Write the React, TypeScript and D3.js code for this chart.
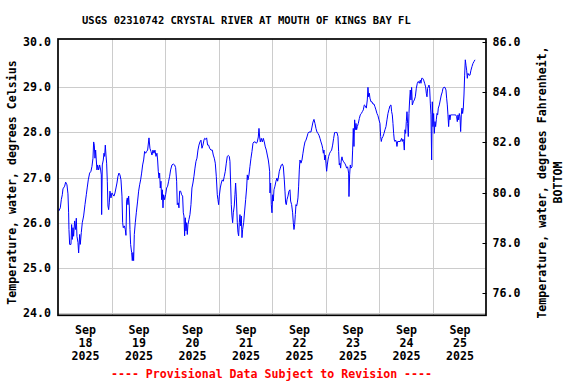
import React from "react";
import * as d3 from "d3";

const TITLE = "USGS 02310742 CRYSTAL RIVER AT MOUTH OF KINGS BAY FL";
const LEFT_LABEL = "Temperature, water, degrees Celsius";
const RIGHT_LABEL = ["Temperature, water, degrees Fahrenheit,", "BOTTOM"];
const FOOTER = "---- Provisional Data Subject to Revision ----";
const celsiusTicks = [24, 25, 26, 27, 28, 29, 30];
const celsiusGrid = [24, 25, 26, 27, 28, 29];
const fahrenheitTicks = [76, 78, 80, 82, 84, 86];
const dayNumbers = [18, 19, 20, 21, 22, 23, 24, 25];
const monthLabel = "Sep";
const yearLabel = "2025";

// [hour of day, water temperature °C]
const sep18: [number, number][] = [
  [0.0, 26.26], [0.67, 26.33], [1.12, 26.51], [1.57, 26.62], [1.87, 26.75], [2.62, 26.81], [3.07, 26.9],
  [3.66, 26.84], [4.11, 26.64], [4.41, 26.22], [4.56, 25.85], [4.86, 25.52], [5.46, 25.52], [5.76, 25.96],
  [6.06, 25.63], [6.36, 25.89], [6.65, 25.7], [7.1, 26.04], [7.55, 25.85], [7.85, 26.1], [8.15, 25.7],
  [8.6, 25.56], [8.9, 25.33], [9.35, 25.74], [9.64, 25.52], [10.09, 25.78], [10.54, 26.0], [11.14, 26.15],
  [11.74, 26.4], [12.34, 26.62], [12.79, 26.79], [13.23, 26.95], [13.83, 27.1], [14.43, 27.14], [14.88, 27.25],
  [15.33, 27.43], [15.63, 27.79], [15.93, 27.72], [16.22, 27.43], [16.52, 27.61], [16.82, 27.39], [17.12, 27.17],
  [17.42, 27.28], [17.87, 27.17], [18.32, 27.28], [18.77, 27.17], [19.07, 27.06], [19.22, 26.18], [19.51, 27.28],
  [19.96, 27.39], [20.26, 27.54], [20.56, 27.47], [20.86, 27.72], [21.16, 27.5], [21.46, 27.32], [21.76, 26.92],
  [22.06, 26.37], [22.36, 26.29], [22.65, 26.44], [22.95, 26.7], [23.4, 26.55], [23.85, 26.66],
];
const sep19: [number, number][] = [
  [0.3, 26.62], [0.75, 26.59], [1.2, 26.66], [1.65, 26.77], [2.09, 26.88], [2.54, 27.03], [2.99, 27.1],
  [3.44, 27.06], [3.89, 26.95], [4.34, 26.59], [4.64, 26.0], [4.93, 25.89], [5.38, 25.93], [5.83, 25.85],
  [6.13, 25.72], [6.43, 26.48], [6.73, 26.55], [7.03, 26.4], [7.33, 26.59], [7.63, 26.37], [7.93, 25.85],
  [8.22, 25.52], [8.67, 25.34], [8.97, 25.16], [9.27, 25.34], [9.57, 25.16], [9.87, 25.74], [10.32, 26.0],
  [10.77, 26.22], [11.36, 26.48], [11.81, 26.7], [12.26, 26.84], [12.71, 26.95], [13.16, 27.1], [13.61, 27.28],
  [14.06, 27.39], [14.5, 27.58], [14.95, 27.54], [15.4, 27.58], [15.85, 27.61], [16.45, 27.88], [16.89, 27.65],
  [17.34, 27.58], [17.79, 27.5], [18.24, 27.61], [18.69, 27.54], [19.14, 27.61], [19.59, 27.47], [20.03, 27.54],
  [20.33, 27.39], [20.63, 27.14], [20.93, 26.99], [21.23, 27.1], [21.53, 26.77], [21.83, 26.92], [22.13, 26.51],
  [22.43, 26.73], [22.73, 26.33], [23.02, 26.62], [23.47, 26.51], [23.92, 26.62],
];
const sep20: [number, number][] = [
  [0.37, 26.77], [0.82, 26.81], [1.27, 26.92], [1.72, 27.03], [2.16, 27.17], [2.76, 27.28], [3.36, 27.3],
  [3.96, 27.28], [4.41, 27.22], [4.86, 26.92], [5.15, 26.4], [5.6, 26.44], [5.9, 26.33], [6.2, 26.7],
  [6.65, 26.7], [7.1, 26.62], [7.55, 26.59], [7.85, 26.22], [8.15, 26.15], [8.44, 25.71], [8.74, 26.11],
  [9.04, 25.82], [9.34, 26.0], [9.64, 25.74], [9.94, 25.96], [10.39, 26.07], [10.84, 26.18], [11.29, 26.4],
  [11.73, 26.77], [12.18, 26.88], [12.63, 27.03], [13.08, 27.21], [13.53, 27.36], [13.98, 27.43], [14.43, 27.61],
  [14.87, 27.72], [15.32, 27.79], [15.77, 27.83], [16.22, 27.65], [16.67, 27.72], [17.12, 27.83], [17.42, 27.87],
  [17.86, 27.85], [18.31, 27.88], [18.76, 27.72], [19.21, 27.72], [19.66, 27.65], [20.26, 27.61], [20.86, 27.61],
  [21.3, 27.5], [21.75, 27.43], [22.2, 27.32], [22.65, 27.03], [23.1, 26.62], [23.4, 26.51], [23.7, 26.4],
];
const sep21: [number, number][] = [
  [0.0, 26.59], [0.44, 26.77], [0.89, 26.88], [1.34, 26.95], [1.79, 26.92], [2.24, 27.03], [2.69, 27.14],
  [3.14, 27.32], [3.58, 27.47], [4.03, 27.49], [4.48, 27.47], [4.78, 27.36], [5.08, 26.88], [5.38, 26.4],
  [5.68, 26.15], [5.98, 26.0], [6.28, 26.22], [6.72, 26.37], [7.02, 26.62], [7.32, 26.88], [7.63, 26.59],
  [8.08, 26.0], [8.38, 25.78], [8.68, 25.71], [8.97, 26.0], [9.27, 26.18], [9.57, 25.93], [9.87, 26.15],
  [10.17, 25.67], [10.47, 25.85], [10.92, 26.0], [11.37, 26.26], [11.82, 26.51], [12.26, 26.77], [12.56, 27.06],
  [12.86, 26.95], [13.31, 27.06], [13.76, 27.25], [14.21, 27.43], [14.66, 27.58], [15.11, 27.76], [15.55, 27.79],
  [16.15, 27.79], [16.6, 27.76], [17.05, 27.79], [17.5, 27.9], [17.8, 28.09], [18.1, 27.9], [18.39, 27.79],
  [18.84, 27.87], [19.29, 27.79], [19.74, 27.87], [20.19, 27.79], [20.64, 27.68], [21.09, 27.61], [21.53, 27.5],
  [21.98, 27.39], [22.28, 27.28], [22.58, 27.14], [22.73, 26.66], [23.03, 26.88], [23.33, 26.4], [23.63, 26.22],
  [23.93, 26.62],
];
const sep22: [number, number][] = [
  [0.23, 26.48], [0.53, 26.73], [0.97, 26.81], [1.42, 26.92], [1.87, 26.99], [2.17, 26.92], [2.47, 26.99],
  [2.92, 27.14], [3.37, 27.21], [3.82, 27.28], [4.26, 27.3], [4.71, 27.25], [5.16, 26.95], [5.46, 26.7],
  [5.76, 26.44], [6.06, 26.4], [6.36, 26.51], [6.81, 26.59], [7.25, 26.7], [7.7, 26.73], [8.0, 26.48],
  [8.45, 26.4], [8.9, 26.22], [9.2, 26.0], [9.5, 25.85], [9.8, 25.96], [10.1, 26.18], [10.4, 26.4],
  [10.69, 26.37], [10.99, 26.44], [11.29, 26.55], [11.59, 26.81], [11.89, 27.17], [12.19, 27.39], [12.64, 27.32],
  [13.09, 27.39], [13.53, 27.54], [13.98, 27.68], [14.43, 27.79], [14.88, 27.83], [15.33, 27.9], [15.78, 27.98],
  [16.23, 28.01], [16.67, 28.01], [17.12, 28.01], [17.57, 28.12], [18.02, 28.23], [18.47, 28.29], [18.92, 28.2],
  [19.37, 28.09], [19.81, 28.01], [20.26, 27.98], [20.71, 27.94], [21.16, 27.87], [21.61, 27.79], [22.06, 27.72],
  [22.36, 27.65], [22.66, 27.54], [22.96, 27.61], [23.26, 27.39], [23.55, 27.5], [23.85, 27.32],
];
const sep23: [number, number][] = [
  [0.15, 27.14], [0.45, 27.28], [0.75, 27.39], [1.05, 27.47], [1.5, 27.54], [1.95, 27.58], [2.39, 27.61],
  [2.84, 27.72], [3.29, 27.87], [3.74, 28.0], [4.19, 28.0], [4.79, 28.0], [5.24, 27.91], [5.53, 27.58],
  [5.83, 27.28], [6.13, 27.32], [6.43, 27.21], [6.73, 27.39], [7.03, 27.46], [7.33, 27.39], [7.78, 27.35],
  [8.23, 27.32], [8.67, 27.28], [9.12, 27.21], [9.57, 27.24], [10.02, 27.1], [10.17, 26.58], [10.47, 27.06],
  [10.77, 27.28], [11.07, 27.21], [11.52, 27.24], [11.81, 27.61], [12.11, 28.09], [12.41, 27.69], [12.71, 28.28],
  [13.01, 28.06], [13.31, 28.2], [13.61, 28.06], [13.91, 28.13], [14.36, 28.2], [14.81, 28.31], [15.25, 28.39],
  [15.7, 28.42], [16.15, 28.46], [16.6, 28.5], [17.05, 28.61], [17.5, 28.59], [17.95, 28.54], [18.39, 28.72],
  [18.69, 29.0], [18.99, 28.79], [19.29, 28.87], [19.59, 28.76], [20.04, 28.68], [20.49, 28.68], [20.94, 28.63],
  [21.38, 28.63], [21.83, 28.57], [22.28, 28.5], [22.73, 28.42], [23.18, 28.37], [23.63, 28.28],
];
const sep24: [number, number][] = [
  [0.08, 28.2], [0.38, 27.91], [0.67, 27.8], [0.97, 27.87], [1.42, 27.91], [1.87, 27.98], [2.32, 28.06],
  [2.77, 28.13], [3.22, 28.28], [3.66, 28.42], [4.11, 28.51], [4.56, 28.59], [5.01, 28.61], [5.31, 28.46],
  [5.61, 28.39], [5.91, 28.2], [6.21, 27.98], [6.51, 27.83], [6.8, 27.8], [7.1, 27.83], [7.4, 27.8],
  [7.7, 27.69], [8.0, 27.8], [8.6, 27.8], [9.2, 27.8], [9.79, 27.87], [10.09, 27.8], [10.39, 27.85],
  [10.69, 27.8], [10.99, 27.61], [11.29, 28.06], [11.59, 27.98], [11.89, 28.24], [12.19, 28.46], [12.49, 28.2],
  [12.79, 27.91], [13.08, 28.42], [13.38, 28.72], [13.68, 28.94], [13.98, 28.72], [14.28, 29.0], [14.58, 28.61],
  [15.03, 28.68], [15.48, 28.72], [15.93, 28.79], [16.38, 28.98], [16.83, 29.09], [17.27, 29.13], [17.72, 29.09],
  [18.17, 29.16], [18.47, 29.09], [18.77, 29.2], [19.22, 29.2], [19.67, 29.16], [20.12, 29.09], [20.56, 29.01],
  [20.86, 28.87], [21.16, 28.79], [21.46, 28.98], [21.76, 29.01], [22.06, 29.05], [22.36, 28.98], [22.66, 28.65],
  [22.96, 28.39], [23.26, 27.39], [23.55, 28.68], [23.85, 28.13],
];
const sep25: [number, number][] = [
  [0.15, 28.42], [0.45, 27.98], [0.75, 28.24], [1.05, 28.13], [1.35, 28.28], [1.65, 28.42], [1.95, 28.39],
  [2.25, 28.54], [2.7, 28.61], [3.14, 28.72], [3.59, 28.83], [4.04, 28.9], [4.34, 28.98], [4.79, 29.0],
  [5.24, 29.0], [5.69, 28.94], [5.98, 28.76], [6.28, 28.61], [6.58, 28.39], [6.88, 28.13], [7.18, 28.39],
  [7.48, 28.28], [7.78, 28.39], [8.23, 28.39], [8.68, 28.39], [9.12, 28.39], [9.57, 28.39], [10.02, 28.39],
  [10.47, 28.35], [10.77, 28.24], [11.07, 28.39], [11.37, 28.28], [11.67, 28.42], [11.97, 28.35], [12.27, 28.02],
  [12.56, 28.39], [12.86, 28.54], [13.16, 28.42], [13.46, 28.54], [13.76, 28.83], [14.06, 29.27], [14.36, 29.61],
  [14.66, 29.49], [14.96, 29.38], [15.26, 29.2], [15.55, 29.31], [16.0, 29.27], [16.45, 29.27], [16.9, 29.38],
  [17.35, 29.46], [17.8, 29.53], [18.25, 29.57], [18.7, 29.61],
];
const dailySeries = [sep18, sep19, sep20, sep21, sep22, sep23, sep24, sep25];

const W = 576;
const H = 384;
const FRAME = { left: 58, right: 486, top: 39, bottom: 315.3 };
const FONT = "'DejaVu Sans Mono', monospace";

export default function App() {
  const day = (i: number, h = 0) => new Date(Date.UTC(2025, 8, dayNumbers[0] + i) + h * 3600e3);
  const points = dailySeries.flatMap((arr, i) => arr.map(([h, v]) => ({ t: day(i, h), v })));

  const x = d3.scaleUtc().domain([day(0), day(8)]).range([58.8, 486.8]);
  const y = d3.scaleLinear().domain([24, 30]).range([313, 42.2]);
  const yF = d3.scaleLinear().domain([24 * 1.8 + 32, 30 * 1.8 + 32]).range([313, 42.2]);

  const line = d3
    .line<{ t: Date; v: number }>()
    .x((d) => x(d.t))
    .y((d) => y(d.v));

  const gridDays = d3.range(1, 8).map((i) => day(i));
  const labelDays = d3.range(0, 8).map((i) => day(i, 12));
  const midY = 182.5;

  return (
    <svg
      width={W}
      height={H}
      style={{ position: "absolute", left: 0, top: 0, background: "#fff" }}
      fontFamily={FONT}
      fontWeight="bold"
    >
      <rect x={0} y={0} width={W} height={H} fill="#fff" />
      <text x={246.4} y={24} fontSize={10.5} textAnchor="middle" fill="#000">
        {TITLE}
      </text>

      {/* grid */}
      {celsiusGrid.map((c) => (
        <line key={"h" + c} x1={FRAME.left} x2={FRAME.right} y1={Math.round(y(c)) + 0.5} y2={Math.round(y(c)) + 0.5} stroke="#cccccc" strokeWidth={1} />
      ))}
      {gridDays.map((d, i) => (
        <line key={"v" + i} x1={Math.floor(x(d)) + 0.5} x2={Math.floor(x(d)) + 0.5} y1={FRAME.top} y2={FRAME.bottom} stroke="#cccccc" strokeWidth={1} />
      ))}

      {/* data */}
      <path d={line(points) || ""} fill="none" stroke="#0000ff" strokeWidth={1} />

      {/* frame */}
      <rect
        x={FRAME.left}
        y={FRAME.top}
        width={FRAME.right - FRAME.left}
        height={FRAME.bottom - FRAME.top}
        fill="none"
        stroke="#000"
        strokeWidth={1.7}
      />

      {/* left ticks */}
      {celsiusTicks.map((c) => (
        <text key={"lc" + c} x={51} y={y(c) + 4} fontSize={11.6} textAnchor="end" fill="#000">
          {c.toFixed(1)}
        </text>
      ))}
      {/* right ticks */}
      {fahrenheitTicks.map((f) => (
        <g key={"rf" + f}>
          <line x1={FRAME.right - 3.5} x2={FRAME.right + 0.5} y1={Math.round(yF(f)) + 0.5} y2={Math.round(yF(f)) + 0.5} stroke="#000" strokeWidth={1} />
          <text x={492.5} y={yF(f) + 4} fontSize={11.6} textAnchor="start" fill="#000">
            {f.toFixed(1)}
          </text>
        </g>
      ))}

      {/* x labels */}
      {labelDays.map((d, i) => (
        <g key={"xl" + i} fontSize={11.6} textAnchor="middle" fill="#000">
          <text x={x(d)} y={333.7}>{monthLabel}</text>
          <text x={x(d)} y={346.7}>{String(dayNumbers[i])}</text>
          <text x={x(d)} y={360}>{yearLabel}</text>
        </g>
      ))}

      {/* axis titles */}
      <text transform={`translate(15.5,${midY}) rotate(-90)`} fontSize={11.6} textAnchor="middle" fill="#000">
        {LEFT_LABEL}
      </text>
      <text transform={`translate(546.3,${midY}) rotate(-90)`} fontSize={11.6} textAnchor="middle" fill="#000">
        {RIGHT_LABEL[0]}
      </text>
      <text transform={`translate(561.5,${midY}) rotate(-90)`} fontSize={11.6} textAnchor="middle" fill="#000">
        {RIGHT_LABEL[1]}
      </text>

      <text x={271.5} y={378} fontSize={11.6} textAnchor="middle" fill="#ff0000">
        {FOOTER}
      </text>
    </svg>
  );
}
